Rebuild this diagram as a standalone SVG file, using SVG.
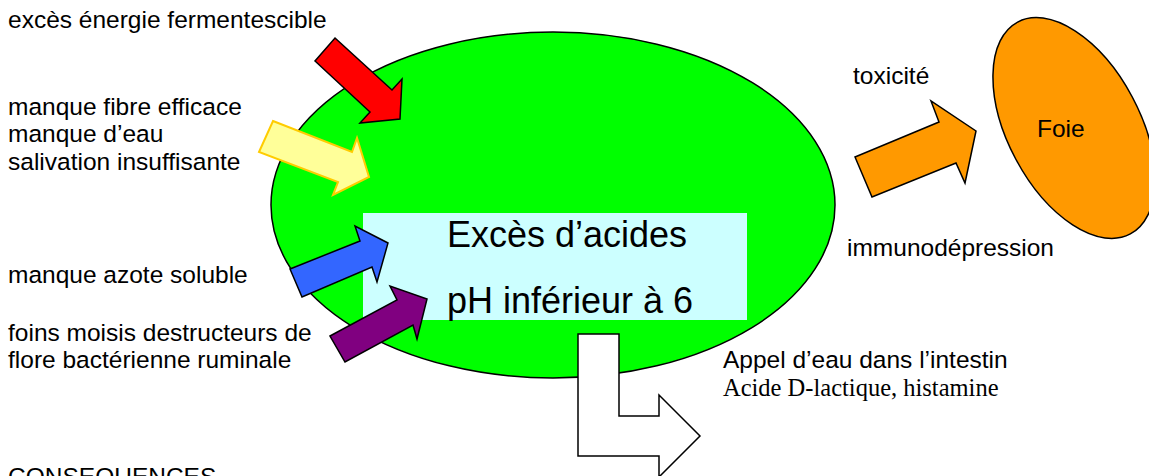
<svg xmlns="http://www.w3.org/2000/svg" width="1149" height="476" viewBox="0 0 1149 476">
  <style>
    .lbl { font-family: "Liberation Sans", Arial, sans-serif; font-size: 24.5px; fill: #000; }
    .serif { font-family: "Liberation Serif", "Times New Roman", serif; font-size: 24.5px; fill: #000; }
    .big { font-family: "Liberation Sans", Arial, sans-serif; font-size: 36px; fill: #000; }
    .arrow { stroke: #000; stroke-width: 1.5; stroke-linejoin: miter; }
  </style>
  <rect width="1149" height="476" fill="#ffffff"/>

  <!-- rumen -->
  <g id="rumen">
    <ellipse cx="553" cy="205" rx="282" ry="173" fill="#00ff00" stroke="#000" stroke-width="1.5"/>
    <rect x="363" y="213" width="384" height="107" fill="#ccffff"/>
    <text class="big" x="447" y="247">Excès d’acides</text>
    <text class="big" x="447" y="313">pH inférieur à 6</text>
  </g>

  <!-- liver -->
  <g id="foie">
    <ellipse cx="1074" cy="128" rx="120" ry="66" transform="rotate(62 1074 128)" fill="#ff9900" stroke="#000" stroke-width="1.5"/>
    <text class="lbl" x="1037" y="137">Foie</text>
  </g>

  <!-- causes -->
  <g id="causes">
    <text class="lbl" x="8" y="28">excès énergie fermentescible</text>
    <text class="lbl" x="8" y="115">manque fibre efficace</text>
    <text class="lbl" x="8" y="142">manque d’eau</text>
    <text class="lbl" x="8" y="170">salivation insuffisante</text>
    <text class="lbl" x="8" y="283">manque azote soluble</text>
    <text class="lbl" x="8" y="341">foins moisis destructeurs de</text>
    <text class="lbl" x="8" y="368">flore bactérienne ruminale</text>
  </g>

  <!-- effects -->
  <g id="effets">
    <text class="lbl" x="853" y="84">toxicité</text>
    <text class="lbl" x="847" y="256">immunodépression</text>
    <text class="lbl" x="723" y="368">Appel d’eau dans l’intestin</text>
    <text class="serif" x="723" y="396">Acide D-lactique, histamine</text>
    <text class="lbl" x="8" y="485">CONSEQUENCES</text>
  </g>

  <!-- block arrows -->
  <g id="connectors">
    <polygon class="arrow" fill="#ff0000" points="335,38 392,90 402,79 400,119 360,123 370,112 315,61"/>
    <polygon fill="#ffff99" stroke="#ffcc00" stroke-width="2" points="273,121 352,152 357,138 369,177 333,195 338,182 259,152"/>
    <polygon class="arrow" fill="#3366ff" points="290,269 360,241 355,226 388,243 377,282 372,267 302,297"/>
    <polygon class="arrow" fill="#800080" points="330,336 397,300 390,286 427,299 417,339 413,325 345,362"/>
    <polygon class="arrow" fill="#ff9900" points="855,157 939,122 931,101 976,131 965,183 956,163 872,197"/>
    <polygon class="arrow" fill="#ffffff" points="578,334 619,334 619,416 659,416 659,395 700,436 659,477 659,456 578,456"/>
  </g>
</svg>
